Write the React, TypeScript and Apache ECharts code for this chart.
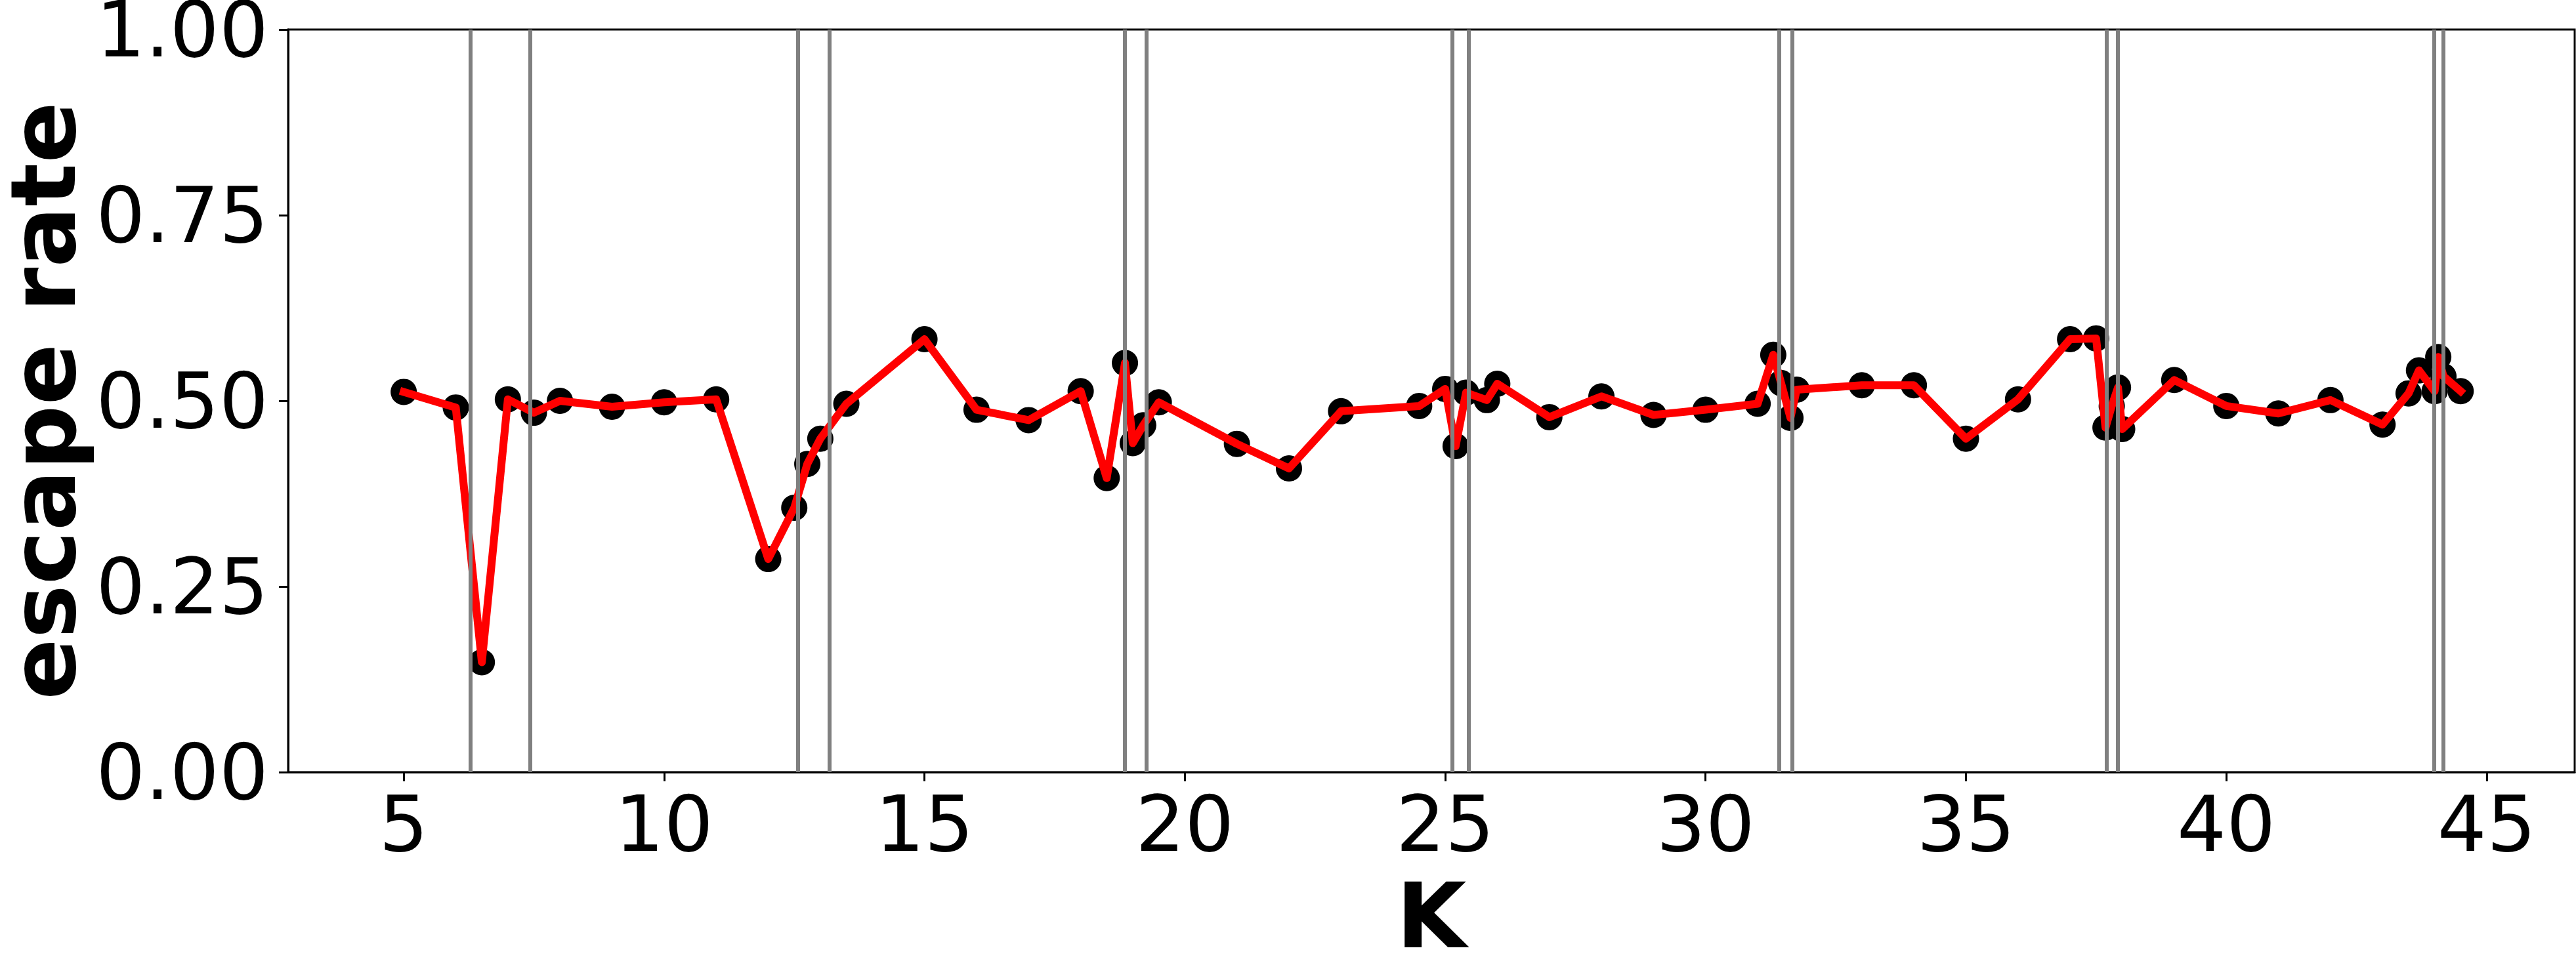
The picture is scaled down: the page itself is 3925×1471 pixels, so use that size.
import React, { useEffect, useRef } from "react";
import * as echarts from "echarts";

const K = [5, 6, 6.5, 7, 7.5, 8, 9, 10, 11, 12, 12.5, 12.75, 13, 13.5, 15, 16, 17, 18, 18.5, 18.85, 19, 19.2, 19.5, 21, 22, 23, 24.5, 25, 25.2, 25.4, 25.8, 26, 27, 28, 29, 30, 31, 31.3, 31.45, 31.63, 31.75, 33, 34, 35, 36, 37, 37.5, 37.68, 37.8, 37.92, 38, 39, 40, 41, 42, 43, 43.5, 43.7, 44, 44.07, 44.17, 44.5];
const escapeRate = [0.512, 0.491, 0.148, 0.502, 0.484, 0.5, 0.492, 0.498, 0.502, 0.287, 0.356, 0.415, 0.449, 0.496, 0.583, 0.488, 0.474, 0.513, 0.396, 0.551, 0.443, 0.467, 0.498, 0.442, 0.409, 0.486, 0.493, 0.516, 0.439, 0.511, 0.501, 0.523, 0.478, 0.506, 0.481, 0.488, 0.496, 0.562, 0.524, 0.477, 0.515, 0.521, 0.521, 0.449, 0.502, 0.583, 0.584, 0.464, 0.493, 0.518, 0.462, 0.528, 0.493, 0.483, 0.501, 0.468, 0.51, 0.541, 0.513, 0.559, 0.533, 0.513];
const verticalLines = [6.28, 7.43, 12.57, 13.17, 18.85, 19.26, 25.13, 25.45, 31.41, 31.66, 37.7, 37.91, 43.99, 44.16];
const xTicks = [5, 10, 15, 20, 25, 30, 35, 40, 45];
const yTicks = [0, 0.25, 0.5, 0.75, 1];

const FONT = "DejaVu Sans";

export default function App() {
  const ref = useRef<HTMLDivElement>(null);
  useEffect(() => {
    if (!ref.current) return;
    const chart = echarts.init(ref.current, null, { renderer: "svg" });
    const pts = K.map((k, i) => [k, escapeRate[i]]);
    chart.setOption({
      animation: false,
      backgroundColor: "#ffffff",
      grid: {
        left: 439,
        right: 2,
        top: 45,
        bottom: 294,
        show: true,
        borderColor: "#000000",
        borderWidth: 3,
        backgroundColor: "transparent",
        containLabel: false,
        outerBoundsMode: "none",
      },
      xAxis: {
        type: "value",
        min: 2.78,
        max: 46.69,
        splitLine: { show: false },
        axisLine: { show: true, onZero: false, lineStyle: { color: "#000", width: 3 } },
        axisTick: { show: true, length: 14, lineStyle: { color: "#000", width: 3 }, customValues: xTicks },
        axisLabel: {
          customValues: xTicks,
          fontSize: 118,
          fontFamily: FONT,
          color: "#000",
          margin: 20,
        },
        name: "K",
        nameLocation: "middle",
        nameGap: 150,
        nameTextStyle: { fontSize: 138, fontWeight: "bold", fontFamily: FONT, color: "#000" },
      },
      yAxis: {
        type: "value",
        min: 0,
        max: 1,
        interval: 0.25,
        splitLine: { show: false },
        axisLine: { show: true, onZero: false, lineStyle: { color: "#000", width: 3 } },
        axisTick: { show: true, length: 14, lineStyle: { color: "#000", width: 3 }, customValues: yTicks },
        axisLabel: {
          customValues: yTicks,
          fontSize: 118,
          fontFamily: FONT,
          color: "#000",
          margin: 30,
          formatter: (v: number) => v.toFixed(2),
        },
        name: "escape rate",
        nameLocation: "middle",
        nameGap: 300,
        nameRotate: 90,
        nameTextStyle: { fontSize: 138, fontWeight: "bold", fontFamily: FONT, color: "#000" },
      },
      series: [
        {
          type: "scatter",
          data: pts,
          symbol: "circle",
          symbolSize: 40,
          itemStyle: { color: "#000000", opacity: 1 },
          z: 2,
          silent: true,
        },
        {
          type: "line",
          data: pts,
          showSymbol: false,
          symbol: "none",
          lineStyle: { color: "#ff0000", width: 12, cap: "square", join: "round", opacity: 1 },
          z: 3,
          silent: true,
        },
        {
          type: "line",
          data: [],
          z: 4,
          silent: true,
          markLine: {
            silent: true,
            symbol: ["none", "none"],
            label: { show: false },
            lineStyle: { color: "#808080", width: 6, type: "solid", opacity: 1 },
            emphasis: { disabled: true },
            data: verticalLines.map((v) => ({ xAxis: v })),
          },
        },
      ],
    });
    return () => chart.dispose();
  }, []);
  return (
    <div
      ref={ref}
      style={{ position: "absolute", left: 0, top: 0, width: 3925, height: 1471 }}
    />
  );
}
